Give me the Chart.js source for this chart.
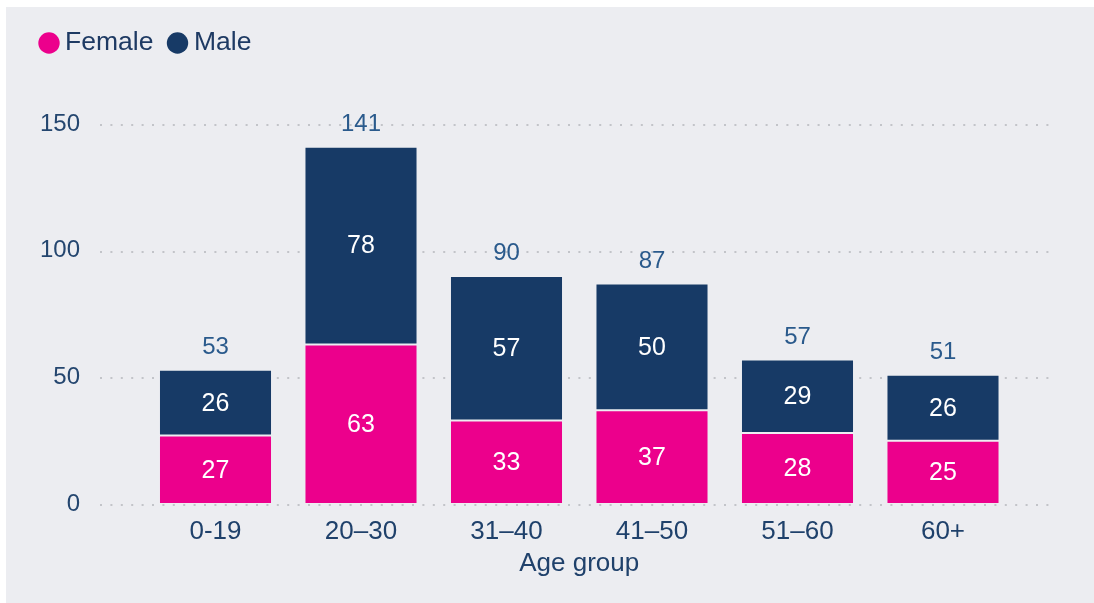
<!DOCTYPE html>
<html><head><meta charset="utf-8">
<script src="https://cdn.jsdelivr.net/npm/chart.js@4.4.0/dist/chart.umd.min.js"></script>
<style>
html,body{margin:0;padding:0;background:#fff;}
#wrap{position:absolute;left:6px;top:7px;width:1088px;height:596px;background:#ECEDF1;}
canvas{display:block;}
</style></head><body>
<div id="wrap"><canvas id="c" width="1088" height="596"></canvas></div>
<script>
const categories = ['0-19', '20–30', '31–40', '41–50', '51–60', '60+'];
const female = [27, 63, 33, 37, 28, 25];
const male = [26, 78, 57, 50, 29, 26];
const yTicks = [0, 50, 100, 150];
const seriesNames = ['Female', 'Male'];
const xTitle = 'Age group';

const FAMILY = "'Liberation Sans', Arial, sans-serif";
Chart.defaults.font.family = FAMILY;

const dottedGrid = {
  id: 'dottedGrid',
  beforeDatasetsDraw(chart) {
    const {ctx, chartArea: a, scales: {y}} = chart;
    ctx.save();
    ctx.strokeStyle = '#C2C4C9';
    ctx.lineWidth = 2;
    ctx.setLineDash([2, 8.4]);
    y.ticks.forEach(t => {
      const py = Math.round(y.getPixelForValue(t.value)) + 1;
      ctx.beginPath();
      ctx.moveTo(a.left - 42.75, py);
      ctx.lineTo(a.right + 39.25, py);
      ctx.stroke();
    });
    ctx.restore();
  }
};

// legend drawn from the dataset labels/colours
const topLegend = {
  id: 'topLegend',
  afterDraw(chart) {
    const {ctx} = chart;
    const items = [{cx: 43, tx: 59}, {cx: 171.5, tx: 188}];
    ctx.save();
    ctx.font = '26.5px ' + FAMILY;
    ctx.textBaseline = 'middle';
    ctx.textAlign = 'left';
    chart.data.datasets.forEach((ds, i) => {
      const it = items[i];
      ctx.fillStyle = ds.backgroundColor;
      ctx.beginPath();
      ctx.arc(it.cx, 36, 10.7, 0, Math.PI * 2);
      ctx.fill();
      ctx.fillStyle = '#1E3A63';
      ctx.fillText(ds.label, it.tx, 36);
    });
    ctx.restore();
  }
};

const barLabels = {
  id: 'barLabels',
  afterDatasetsDraw(chart) {
    const {ctx} = chart;
    ctx.save();
    ctx.textAlign = 'center';
    ctx.textBaseline = 'middle';
    ctx.font = '25px ' + FAMILY;
    ctx.fillStyle = '#FFFFFF';
    chart.data.datasets.forEach((ds, di) => {
      const meta = chart.getDatasetMeta(di);
      meta.data.forEach((el, i) => {
        ctx.fillText(String(ds.data[i]), el.x, (el.y + el.base) / 2 + 1);
      });
    });
    const last = chart.getDatasetMeta(chart.data.datasets.length - 1);
    ctx.fillStyle = '#2A5A8C';
    ctx.font = '24px ' + FAMILY;
    last.data.forEach((el, i) => {
      const total = chart.data.datasets.reduce((s, ds) => s + ds.data[i], 0);
      ctx.fillText(String(total), el.x, el.y - 22.5);
    });
    ctx.restore();
  }
};

new Chart(document.getElementById('c'), {
  type: 'bar',
  data: {
    labels: categories,
    datasets: [
      {label: seriesNames[0], data: female, backgroundColor: '#EC008C', borderColor: 'rgba(255,255,255,0.12)', borderWidth: 1, borderSkipped: false},
      {label: seriesNames[1], data: male, backgroundColor: '#173A66', borderColor: 'rgba(255,255,255,0.12)', borderWidth: 1, borderSkipped: false}
    ]
  },
  options: {
    responsive: false,
    animation: false,
    datasets: {bar: {barPercentage: 0.777, categoryPercentage: 1}},
    layout: {padding: {left: 18.2, top: 41, right: 78.25, bottom: 24}},
    plugins: {
      tooltip: {enabled: false},
      legend: {display: false}
    },
    scales: {
      x: {
        stacked: true,
        grid: {display: false, drawTicks: false},
        border: {display: false},
        ticks: {padding: 12, color: '#1F416B', font: {size: 26, family: FAMILY}},
        title: {display: true, text: xTitle, color: '#1F416B', font: {size: 26, family: FAMILY}, padding: 0},
        afterFit: s => { s.height = 75; }
      },
      y: {
        stacked: true, min: 0, max: 165.73,
        ticks: {padding: 62.75, color: '#24466F', font: {size: 24, family: FAMILY}},
        afterBuildTicks: s => { s.ticks = yTicks.map(v => ({value: v})); },
        grid: {display: false, drawTicks: false},
        border: {display: false},
        afterFit: s => { s.width = 118.55; }
      }
    }
  },
  plugins: [dottedGrid, barLabels, topLegend]
});
</script>
</body></html>
